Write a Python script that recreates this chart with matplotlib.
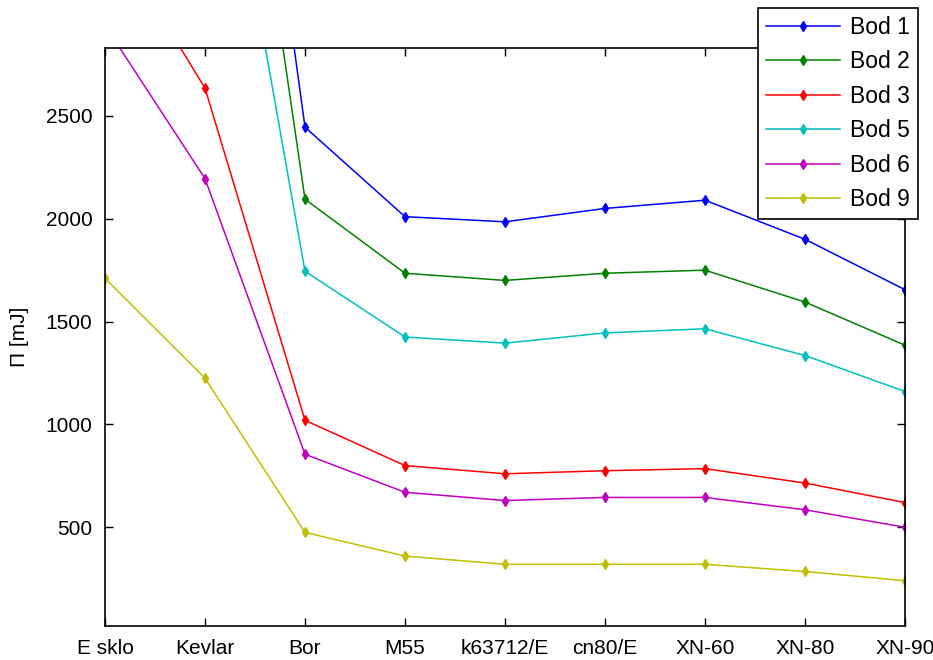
import matplotlib
matplotlib.use("Agg")
import matplotlib.pyplot as plt

# materials on x axis
materialy = ["E sklo", "Kevlar", "Bor", "M55", "k63712/E", "cn80/E", "XN-60", "XN-80", "XN-90"]

# energy [mJ] per point (values above the top edge are estimated from the slopes)
bod1 = [9500, 6000, 2445, 2010, 1985, 2050, 2090, 1900, 1655]
bod2 = [8500, 5430, 2095, 1735, 1700, 1735, 1750, 1595, 1385]
bod3 = [3430, 2635, 1020, 800, 760, 775, 785, 715, 620]
bod5 = [7000, 4485, 1745, 1425, 1395, 1445, 1465, 1335, 1160]
bod6 = [2940, 2195, 855, 670, 630, 645, 645, 585, 500]
bod9 = [1710, 1225, 475, 360, 320, 320, 320, 285, 240]

plt.rcParams["font.family"] = ["Liberation Sans", "DejaVu Sans"]
plt.rcParams["font.size"] = 15

fig = plt.figure(figsize=(9.33, 6.6), dpi=100)
ax = fig.add_axes([105 / 933, 1 - 626 / 660, 800 / 933, 578 / 660])

x = list(range(len(materialy)))
serie = [
    (bod1, (0, 0, 1), "Bod 1"),
    (bod2, (0, 0.5, 0), "Bod 2"),
    (bod3, (1, 0, 0), "Bod 3"),
    (bod5, (0, 0.75, 0.75), "Bod 5"),
    (bod6, (0.75, 0, 0.75), "Bod 6"),
    (bod9, (0.75, 0.75, 0), "Bod 9"),
]
for data, c, name in serie:
    ax.plot(x, data, color=c, marker="d", markersize=5.5, linewidth=1.1, label=name)

ax.set_xlim(0, 8)
ax.set_ylim(20, 2830)
ax.set_xticks(x)
ax.set_xticklabels(materialy)
ax.set_yticks([500, 1000, 1500, 2000, 2500])
ax.tick_params(direction="in", top=True, right=True, length=6, width=1, pad=9)
for s in ax.spines.values():
    s.set_linewidth(1.2)
ax.set_ylabel("Π [mJ]", labelpad=12)

leg = ax.legend(loc="upper right", bbox_to_anchor=(918 / 933, 1 - 8 / 660),
                bbox_transform=fig.transFigure, fancybox=False, framealpha=1,
                edgecolor="black", handlelength=3.2, labelspacing=0.5,
                borderpad=0.35, handletextpad=0.45, borderaxespad=0,
                fontsize=16.5)
leg.get_frame().set_linewidth(1.2)

fig.savefig("out.png", dpi=100)
